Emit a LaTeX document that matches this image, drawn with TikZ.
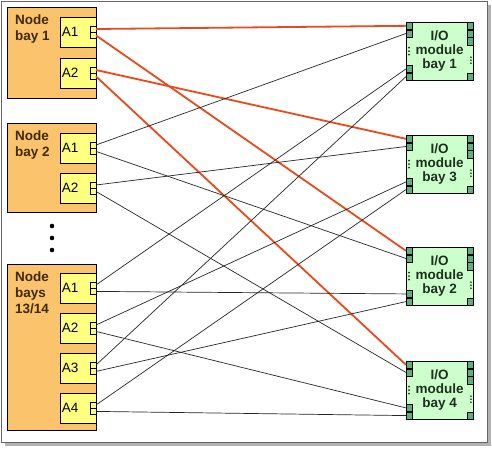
\documentclass[tikz,border=0pt]{standalone}
\usepackage{fontspec}
\setmainfont{Liberation Sans}
\usepackage{xcolor}
\definecolor{bayorange}{HTML}{FBC36C}
\definecolor{portyellow}{HTML}{FFFF80}
\definecolor{iogreen}{HTML}{CCFFCC}
\definecolor{portgreen}{HTML}{5FAE80}
\definecolor{linkred}{HTML}{E84A1C}
\definecolor{baybrown}{HTML}{3F2A00}
\definecolor{iodark}{HTML}{1F2F1F}
\usepackage{tikz}
\usetikzlibrary{calc}

\begin{document}
\begin{tikzpicture}[x=1pt, y=-1pt,
  bay/.style={draw, fill=bayorange, minimum width=89pt, anchor=north west,
              inner sep=0pt},
  baytext/.style={anchor=north west, inner sep=0pt, align=left, text=baybrown,
                  font=\bfseries\fontsize{13.5}{16}\selectfont},
  abox/.style={draw, fill=portyellow, anchor=north east, minimum height=30pt,
               text width=32pt, inner xsep=2pt, align=left,
               font=\fontsize{13.5}{14}\selectfont},
  nport/.style={draw, fill=portyellow, minimum width=6pt, minimum height=6pt,
                inner sep=0pt},
  iobox/.style={draw, fill=iogreen, anchor=north west, minimum width=67pt,
                minimum height=58pt, align=center, text=iodark, inner sep=0pt,
                font=\bfseries\fontsize{13.5}{14}\selectfont},
  ioport/.style={draw, fill=portgreen, minimum width=6pt, minimum height=7.25pt,
                 inner sep=0pt},
  blacklink/.style={draw=black!85, line width=0.7pt},
  redlink/.style={draw=linkred, line width=1.8pt}
]
  \useasboundingbox (0,0) rectangle (492,448);
  % frame with shadow
  \fill[black!30] (5,5) rectangle (491,446);
  \draw[black!60, fill=white] (1,1) rectangle (487,442);

  % node bays
  \node[bay, minimum height=91pt] (bay1) at (7,7) {};
  \node[baytext] (bay1-t) at (15,15) {Node\\bay 1};
  \node[bay, minimum height=89pt] (bay2) at (7,123) {};
  \node[baytext] (bay2-t) at (15,131) {Node\\bay 2};
  \node[bay, minimum height=166pt] (bay3) at (7,264) {};
  \node[baytext] (bay3-t) at (15,272) {Node\\bays\\13/14};
  \foreach \k in {0,1,2}
    \fill (52,226+12*\k) circle (2.3);

  % adapters and their two ports
  \foreach \n/\y/\t in {b1a1/17/A1, b1a2/58/A2, b2a1/133/A1, b2a2/173/A2,
                        b3a1/273/A1, b3a2/313/A2, b3a3/353/A3, b3a4/393/A4} {
    \node[abox] (\n) at (96,\y) {\t};
    \node[nport, anchor=south east] (\n-u) at (\n.east) {};
    \node[nport, anchor=north east] (\n-d) at (\n.east) {};
  }

  % I/O modules
  \foreach \n/\y/\b in {io1/22/1, io3/135/3, io2/247/2, io4/361/4} {
    \node[iobox] (\n) at (406,\y) {I/O\\module\\bay \b};
    \node[ioport, anchor=north west] (\n-p1) at (\n.north west) {};
    \node[ioport, anchor=north west] (\n-p2) at (\n-p1.south west) {};
    \node[ioport, anchor=south west] (\n-p4) at (\n.south west) {};
    \node[ioport, anchor=south west] (\n-p3) at (\n-p4.north west) {};
    \node[ioport, anchor=north east] (\n-r1) at (\n.north east) {};
    \node[ioport, anchor=north east] (\n-r2) at (\n-r1.south east) {};
    \node[ioport, anchor=north east] (\n-r3) at (\n-r2.south east) {};
    \node[ioport, anchor=south east] (\n-r4) at (\n.south east) {};
    \foreach \k in {-1,0,1} {
      \fill[iodark] ($(\n.west)+(3,3.5*\k)$) circle (1);
      \fill[iodark] ($(\n.east)+(-2.5,9+3*\k)$) circle (0.9);
    }
  }

  % links
  \foreach \a/\b in {b1a1-u/io1-p1, b1a1-d/io2-p1, b1a2-u/io3-p1, b1a2-d/io4-p1}
    \draw[redlink] (\a.east) -- (\b.west);
  \foreach \a/\b in {b2a1-u/io1-p2, b2a1-d/io2-p2, b2a2-u/io3-p2, b2a2-d/io4-p2,
                     b3a1-u/io1-p3, b3a1-d/io2-p3, b3a2-u/io3-p3, b3a2-d/io4-p3,
                     b3a3-u/io1-p4, b3a3-d/io2-p4, b3a4-u/io3-p4, b3a4-d/io4-p4}
    \draw[blacklink] (\a.east) -- (\b.west);
\end{tikzpicture}
\end{document}
